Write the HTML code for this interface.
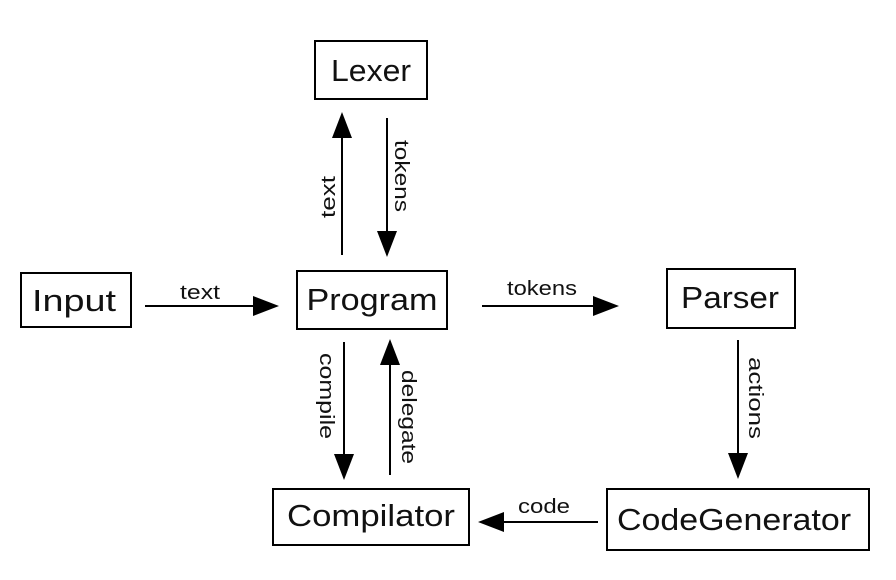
<!DOCTYPE html>
<html><head><meta charset="utf-8"><style>html,body{margin:0;padding:0;background:#fff}svg{display:block}</style></head>
<body>
<svg width="896" height="580" viewBox="0 0 896 580" xmlns="http://www.w3.org/2000/svg" font-family="Liberation Sans, sans-serif">
<g fill="none" stroke="#000" stroke-width="2">
<rect x="315" y="41" width="112" height="58"/>
<rect x="21" y="273" width="110" height="54"/>
<rect x="297" y="271" width="150" height="58"/>
<rect x="667" y="269" width="128" height="59"/>
<rect x="273" y="489" width="196" height="56"/>
<rect x="607" y="489" width="262" height="61"/>
<line x1="342" y1="255" x2="342" y2="130"/>
<line x1="387" y1="118" x2="387" y2="235"/>
<line x1="145" y1="306" x2="258" y2="306"/>
<line x1="482" y1="306" x2="598" y2="306"/>
<line x1="344" y1="342" x2="344" y2="460"/>
<line x1="390" y1="475" x2="390" y2="360"/>
<line x1="738" y1="340" x2="738" y2="458"/>
<line x1="598" y1="522" x2="498" y2="522"/>
</g>
<g fill="#000">
<polygon points="342,112 332,138 352,138"/>
<polygon points="387,257 377,231 397,231"/>
<polygon points="279,306 253,296 253,316"/>
<polygon points="619,306 593,296 593,316"/>
<polygon points="344,480 334,454 354,454"/>
<polygon points="390,339 380,365 400,365"/>
<polygon points="738,479 728,453 748,453"/>
<polygon points="478,522 504,512 504,532"/>
</g>
<g font-size="31" text-anchor="middle" fill="#111" lengthAdjust="spacingAndGlyphs">
<text x="371" y="81" textLength="80" lengthAdjust="spacingAndGlyphs">Lexer</text>
<text x="74" y="311" textLength="84" lengthAdjust="spacingAndGlyphs">Input</text>
<text x="372" y="310" textLength="131" lengthAdjust="spacingAndGlyphs">Program</text>
<text x="730" y="308" textLength="98" lengthAdjust="spacingAndGlyphs">Parser</text>
<text x="371" y="526" textLength="168" lengthAdjust="spacingAndGlyphs">Compilator</text>
<text x="734" y="530" textLength="234" lengthAdjust="spacingAndGlyphs">CodeGenerator</text>
</g>
<g font-size="20" text-anchor="middle" fill="#111">
<text x="200" y="299" textLength="40" lengthAdjust="spacingAndGlyphs">text</text>
<text x="542" y="295" textLength="70" lengthAdjust="spacingAndGlyphs">tokens</text>
<text x="544" y="513" textLength="52" lengthAdjust="spacingAndGlyphs">code</text>
<text transform="translate(335,197) rotate(-90)" textLength="42" lengthAdjust="spacingAndGlyphs">text</text>
<text transform="translate(395,176) rotate(90)" textLength="72" lengthAdjust="spacingAndGlyphs">tokens</text>
<text transform="translate(320,396) rotate(90)" textLength="86" lengthAdjust="spacingAndGlyphs">compile</text>
<text transform="translate(402,417) rotate(90)" textLength="94" lengthAdjust="spacingAndGlyphs">delegate</text>
<text transform="translate(749,398) rotate(90)" textLength="82" lengthAdjust="spacingAndGlyphs">actions</text>
</g>
</svg>
</body></html>
